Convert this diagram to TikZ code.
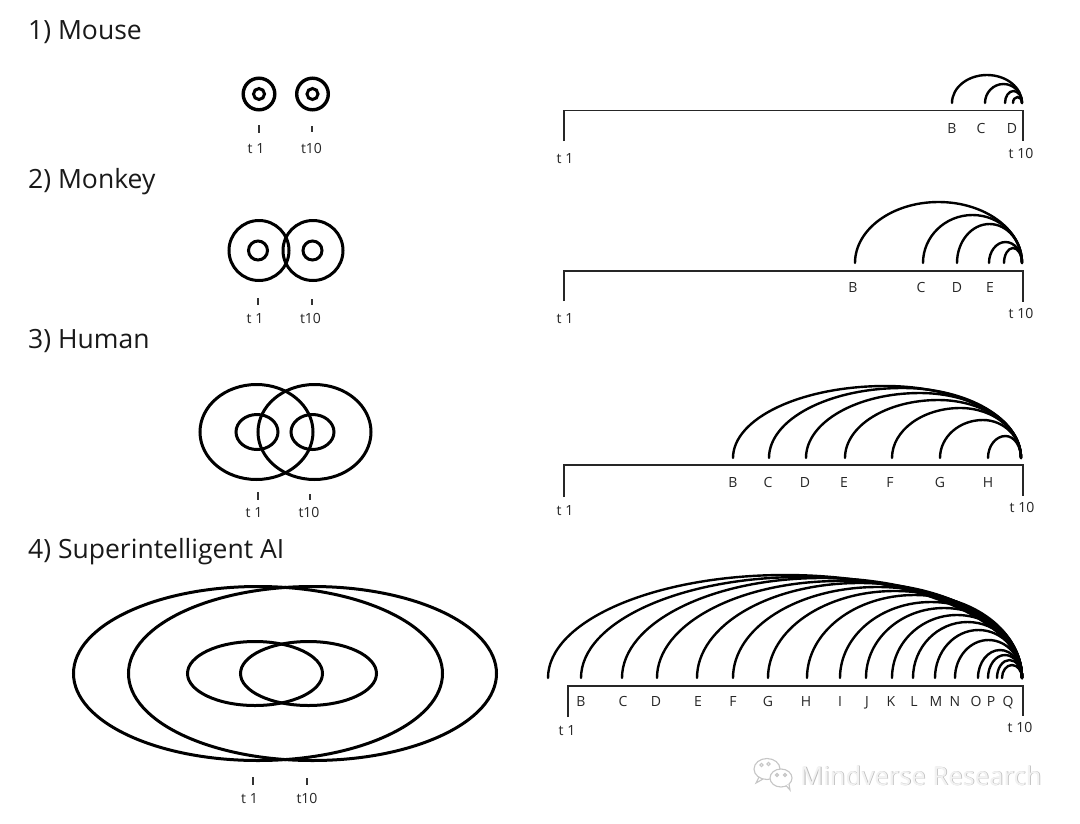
\documentclass[tikz,border=0pt]{standalone}
\usepackage{fontspec}
\setmainfont{Open Sans}
\newfontfamily\wmfont{Noto Sans}
\tikzset{
  ring/.style={line width=3pt, draw=black},
  thickring/.style={line width=3.4pt, draw=black},
  arcline/.style={line width=2.4pt, line cap=round, draw=black},
  tline/.style={line width=1.6pt, draw=black!85},
  tickmark/.style={line width=1.2pt, draw=black!80},
  title/.style={anchor=base west, inner sep=0pt, font=\fontsize{26.5}{30}\selectfont, text=black!90},
  lab/.style={anchor=base, inner sep=0pt, font=\fontsize{14}{16}\selectfont, text=black!85},
  wm/.style={anchor=base west, inner sep=0pt, font=\wmfont\fontsize{25.5}{30}\selectfont},
  wmline/.style={line width=1.1pt, draw=gray!45},
}
% #1 start x, #2 height, #3 base y, #4 end x, #5 peak fraction
\newcommand\halfarc[5]{%
  \pgfmathsetmacro\hxm{#1+#5*(#4-#1)}%
  \pgfmathsetmacro\hrl{\hxm-#1}%
  \pgfmathsetmacro\hrr{#4-\hxm}%
  \pgfmathsetmacro\htop{#3-#2}%
  \pgfmathsetmacro\hmid{#3-0.5523*#2}%
  \draw[arcline] (#1,#3) .. controls (#1,\hmid) and ({\hxm-0.5523*\hrl},\htop) .. (\hxm,\htop)
    .. controls ({\hxm+0.5523*\hrr},\htop) and (#4,\hmid) .. (#4,#3);%
}
\begin{document}
\begin{tikzpicture}[x=1pt,y=-1pt]
\fill[white] (0,0) rectangle (1080,823);
\useasboundingbox (0,0) rectangle (1080,823);

% ---------------- titles
\node[title] (title1) at (28,39) {1) Mouse};
\node[title] (title2) at (28,188) {2) Monkey};
\node[title] (title3) at (28,348) {3) Human};
\node[title] (title4) at (28,558) {4) Superintelligent AI};

% ---------------- 1) Mouse, left
\draw[thickring] (259,94) circle[radius=15.8pt];
\draw[ring] (259,94) circle[radius=5.5pt];
\draw[thickring] (312.5,94) circle[radius=15.8pt];
\draw[ring] (312.5,94) circle[radius=5.5pt];
\coordinate (m1a) at (259,125); \coordinate (m1b) at (259,133);
\coordinate (m2a) at (312,126); \coordinate (m2b) at (312,132);
\draw[tickmark] (m1a) -- (m1b);
\draw[tickmark] (m2a) -- (m2b);
\node[lab] (mt1) at (256,153) {t 1};
\node[lab] (mt10) at (311.5,153) {t10};

% ---------------- 1) Mouse, right
\coordinate (ma) at (564,141); \coordinate (mb) at (564,110.5);
\coordinate (mc) at (1023,110.5); \coordinate (md) at (1023,141);
\draw[tline] (ma) -- (mb) -- (mc) -- (md);
\node[lab] (mrt1) at (565,163) {t 1};
\node[lab] (mrt10) at (1021,158) {t 10};
\node[lab] (mB) at (952,133) {B};
\node[lab] (mC) at (981,133) {C};
\node[lab] (mD) at (1012,133) {D};
\foreach \xs/\hh in {952/28, 985/19, 1005/12, 1013/6}{\halfarc{\xs}{\hh}{103}{1022}{0.5}}

% ---------------- 2) Monkey, left
\draw[ring] (259,250.5) circle[radius=30pt];
\draw[ring] (258,250.5) circle[radius=9.5pt];
\draw[ring] (313,250.5) circle[radius=30pt];
\draw[ring] (312.5,250.5) circle[radius=9.5pt];
\coordinate (k1a) at (258,298); \coordinate (k1b) at (258,305);
\coordinate (k2a) at (312,299); \coordinate (k2b) at (312,305);
\draw[tickmark] (k1a) -- (k1b);
\draw[tickmark] (k2a) -- (k2b);
\node[lab] (kt1) at (255,323) {t 1};
\node[lab] (kt10) at (310.5,323) {t10};

% ---------------- 2) Monkey, right
\coordinate (ka) at (564,301); \coordinate (kb) at (564,271);
\coordinate (kc) at (1023,271); \coordinate (kd) at (1023,302);
\draw[tline] (ka) -- (kb) -- (kc) -- (kd);
\node[lab] (krt1) at (565,323) {t 1};
\node[lab] (krt10) at (1021,318) {t 10};
\node[lab] (kB) at (853,292) {B};
\node[lab] (kC) at (921,292) {C};
\node[lab] (kD) at (957,292) {D};
\node[lab] (kE) at (990,292) {E};
\foreach \xs/\hh in {855/61, 923/48, 957/39, 989/21, 1004/15}{\halfarc{\xs}{\hh}{263}{1022}{0.5}}

% ---------------- 3) Human, left
\draw[ring] (256.5,432) ellipse[x radius=56.5pt, y radius=47.5pt];
\draw[ring] (314.5,432) ellipse[x radius=56.5pt, y radius=47.5pt];
\draw[ring] (257,432) ellipse[x radius=21pt, y radius=17.5pt];
\draw[ring] (312.5,432) ellipse[x radius=21.5pt, y radius=17.5pt];
\coordinate (h1a) at (258,492); \coordinate (h1b) at (258,500);
\coordinate (h2a) at (310,494); \coordinate (h2b) at (310,500);
\draw[tickmark] (h1a) -- (h1b);
\draw[tickmark] (h2a) -- (h2b);
\node[lab] (ht1) at (254,517) {t 1};
\node[lab] (ht10) at (309,517) {t10};

% ---------------- 3) Human, right
\coordinate (ha) at (564,497); \coordinate (hb) at (564,465);
\coordinate (hc) at (1023,465); \coordinate (hd) at (1023,496);
\draw[tline] (ha) -- (hb) -- (hc) -- (hd);
\node[lab] (hrt1) at (565,515) {t 1};
\node[lab] (hrt10) at (1022,512) {t 10};
\foreach \ll/\xx in {B/733, C/768, D/805, E/844, F/890, G/940, H/988}{
  \node[lab] (h\ll) at (\xx,487) {\ll};
}
\foreach \xs/\hh in {733/72, 769/70, 806/65, 845/58, 892/50, 940/38, 988/22}{\halfarc{\xs}{\hh}{458}{1021}{0.53}}

% ---------------- 4) Superintelligent AI, left
\draw[ring] (258,673.5) ellipse[x radius=184.5pt, y radius=87pt];
\draw[ring] (312.5,673.5) ellipse[x radius=184pt, y radius=87pt];
\draw[ring] (255,673.5) ellipse[x radius=67.5pt, y radius=32pt];
\draw[ring] (308.5,673.5) ellipse[x radius=68pt, y radius=32pt];
\coordinate (a1a) at (253,777); \coordinate (a1b) at (253,785);
\coordinate (a2a) at (307,778); \coordinate (a2b) at (307,785);
\draw[tickmark] (a1a) -- (a1b);
\draw[tickmark] (a2a) -- (a2b);
\node[lab] (at1) at (249.5,803) {t 1};
\node[lab] (at10) at (307,803) {t10};

% ---------------- 4) Superintelligent AI, right
\coordinate (aa) at (568,717); \coordinate (ab) at (568,686);
\coordinate (ac) at (1023,686); \coordinate (ad) at (1023,716);
\draw[tline] (aa) -- (ab) -- (ac) -- (ad);
\node[lab] (art1) at (567,735) {t 1};
\node[lab] (art10) at (1020,732) {t 10};
\foreach \ll/\xx in {B/581, C/623, D/656, E/698, F/733, G/768, H/806, I/840, J/867, K/891, L/914, M/936, N/955, O/976, P/991, Q/1008}{
  \node[lab] (a\ll) at (\xx,706) {\ll};
}
\foreach \xs/\hh in {548/103, 581/101, 622/100, 657/97, 697/95, 733/91, 768/87, 807/83, 840/76, 866/70, 892/63, 913/56, 935/48, 955/38, 978/28, 988/23, 997/18, 1002/13}{\halfarc{\xs}{\hh}{678}{1022}{0.5}}

% ---------------- watermark
\draw[wmline, fill=white] (767,769) ellipse[x radius=13pt, y radius=10.5pt];
\draw[wmline] (759,777) -- (756,783) -- (763,779);
\draw[wmline] (761.5,765) circle[radius=1.6pt];
\draw[wmline] (768.5,764) circle[radius=1.6pt];
\draw[wmline, fill=white] (781,778) ellipse[x radius=11pt, y radius=9pt];
\draw[wmline, fill=white] (786,785.5) -- (790,790) -- (789,784);
\draw[wmline] (777,775) circle[radius=1.5pt];
\draw[wmline] (785,775) circle[radius=1.5pt];
\node[wm, text=gray!55] (wmshadow) at (800.8,785.8) {Mindverse Research};
\node[wm, text=gray!10] (wmtext) at (800,785) {Mindverse Research};
\end{tikzpicture}
\end{document}
